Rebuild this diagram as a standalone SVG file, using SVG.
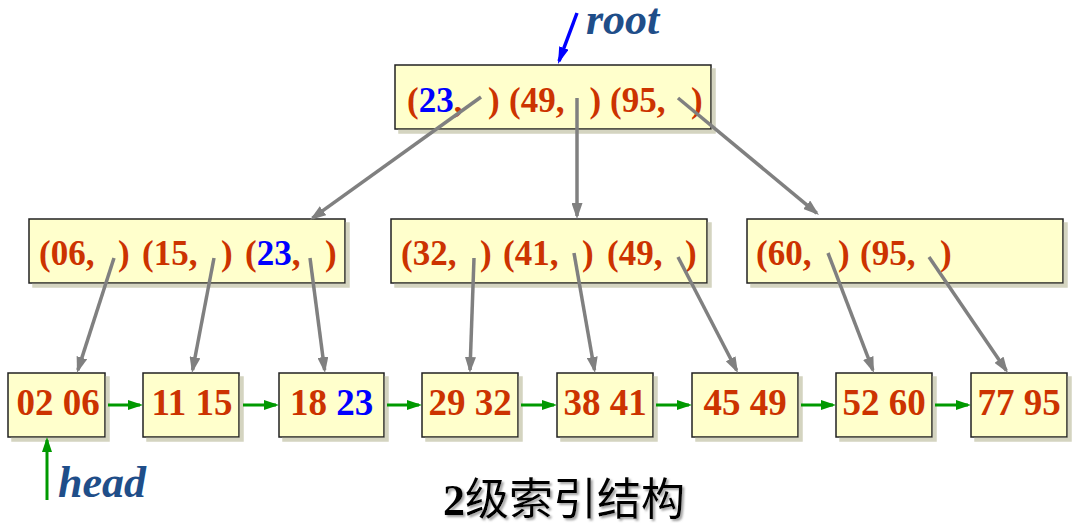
<svg xmlns="http://www.w3.org/2000/svg" width="1082" height="527" viewBox="0 0 1082 527">
<style>
.box{fill:#FFFFCC;stroke:#222;stroke-width:1.5;filter:url(#sh)}
.t{font-family:"Liberation Serif","Times New Roman",serif;font-weight:bold;font-size:35px;fill:#CC3300}
.leaf{font-family:"Liberation Serif","Times New Roman",serif;font-weight:bold;font-size:37px;fill:#CC3300;text-anchor:middle}
.b{fill:#0000FF}
.lbl{font-family:"Liberation Serif","Times New Roman",serif;font-weight:bold;font-style:italic;font-size:44px;fill:#1F4E89}
.g{stroke:#808080;stroke-width:3.5;fill:none;marker-end:url(#ag)}
.gr{stroke:#009900;stroke-width:3;fill:none;marker-end:url(#agr)}
</style>
<defs>
<filter id="sh" x="-5%" y="-5%" width="120%" height="130%">
<feDropShadow dx="4" dy="4" stdDeviation="0.6" flood-color="#d4d4c0" flood-opacity="1"/>
</filter>
<filter id="tsh" x="-5%" y="-10%" width="115%" height="140%">
<feDropShadow dx="2" dy="2" stdDeviation="1" flood-color="#888" flood-opacity="0.8"/>
</filter>
<marker id="ag" markerUnits="userSpaceOnUse" markerWidth="16" markerHeight="11" refX="13" refY="5.5" orient="auto">
<path d="M0,0 L16,5.5 L0,11 z" fill="#808080"/>
</marker>
<marker id="agr" markerUnits="userSpaceOnUse" markerWidth="15" markerHeight="10" refX="12" refY="5" orient="auto">
<path d="M0,0 L15,5 L0,10 z" fill="#009900"/>
</marker>
<marker id="ab" markerUnits="userSpaceOnUse" markerWidth="17" markerHeight="10" refX="14" refY="5" orient="auto">
<path d="M0,0 L17,5 L0,10 z" fill="#0000FF"/>
</marker>
</defs>

<g id="root-node">
<rect class="box" x="395" y="65" width="316" height="64"/>
<text class="t" y="112"><tspan x="407">(</tspan><tspan class="b">23</tspan>, <tspan x="488">)</tspan> <tspan x="509">(49, </tspan><tspan x="589.5">)</tspan> <tspan x="610">(95, </tspan><tspan x="691">)</tspan></text>
</g>

<g id="n1">
<rect class="box" x="29" y="219" width="316" height="64"/>
<text class="t" y="265"><tspan x="39">(06, </tspan><tspan x="118">)</tspan> <tspan x="142">(15, </tspan><tspan x="221">)</tspan> <tspan x="245">(</tspan><tspan class="b">23</tspan>, <tspan x="325">)</tspan></text>
</g>
<g id="n2">
<rect class="box" x="391" y="219" width="316" height="64"/>
<text class="t" y="265"><tspan x="401">(32, </tspan><tspan x="480">)</tspan> <tspan x="503">(41, </tspan><tspan x="582">)</tspan> <tspan x="607">(49, </tspan><tspan x="685">)</tspan></text>
</g>
<g id="n3">
<rect class="box" x="747" y="219" width="316" height="64"/>
<text class="t" y="265"><tspan x="756">(60, </tspan><tspan x="838">)</tspan> <tspan x="860">(95, </tspan><tspan x="940">)</tspan></text>
</g>

<g id="l1"><rect class="box" x="8" y="373" width="97" height="64"/><text class="leaf" x="58" y="415">02 06</text></g>
<g id="l2"><rect class="box" x="143" y="373" width="96" height="64"/><text class="leaf" x="192" y="415">11 15</text></g>
<g id="l3"><rect class="box" x="279" y="373" width="105" height="64"/><text class="leaf" x="331.5" y="415">18 <tspan class="b">23</tspan></text></g>
<g id="l4"><rect class="box" x="422" y="373" width="96" height="64"/><text class="leaf" x="470" y="415">29 32</text></g>
<g id="l5"><rect class="box" x="557" y="373" width="96" height="64"/><text class="leaf" x="605" y="415">38 41</text></g>
<g id="l6"><rect class="box" x="692" y="373" width="106" height="64"/><text class="leaf" x="745" y="415">45 49</text></g>
<g id="l7"><rect class="box" x="836" y="373" width="96" height="64"/><text class="leaf" x="884" y="415">52 60</text></g>
<g id="l8"><rect class="box" x="971" y="373" width="96" height="64"/><text class="leaf" x="1019" y="415">77 95</text></g>

<g id="connectors">
<line class="g" x1="481" y1="97" x2="312.4" y2="218.2"/>
<line class="g" x1="577" y1="98" x2="577" y2="216"/>
<line class="g" x1="678" y1="98" x2="816.7" y2="213.1"/>
<line class="g" x1="114" y1="258" x2="77.9" y2="370.1"/>
<line class="g" x1="214" y1="258" x2="192.6" y2="370"/>
<line class="g" x1="310" y1="258" x2="324.6" y2="370"/>
<line class="g" x1="474" y1="258" x2="470" y2="370"/>
<line class="g" x1="574" y1="253" x2="594.5" y2="370"/>
<line class="g" x1="678" y1="257" x2="736.6" y2="370.3"/>
<line class="g" x1="828" y1="253" x2="872.9" y2="370.2"/>
<line class="g" x1="929" y1="257" x2="1006.3" y2="370.5"/>
<line class="gr" x1="108" y1="405" x2="140" y2="405"/>
<line class="gr" x1="243" y1="405" x2="276" y2="405"/>
<line class="gr" x1="387" y1="405" x2="419" y2="405"/>
<line class="gr" x1="521" y1="405" x2="554" y2="405"/>
<line class="gr" x1="656" y1="405" x2="689" y2="405"/>
<line class="gr" x1="801" y1="405" x2="833" y2="405"/>
<line class="gr" x1="935" y1="405" x2="968" y2="405"/>
<line class="gr" x1="47" y1="500" x2="47" y2="440"/>
<line x1="577" y1="13" x2="559" y2="61.2" stroke="#0000FF" stroke-width="3.5" marker-end="url(#ab)"/>
</g>

<g id="labels">
<text class="lbl" x="586" y="34">root</text>
<text class="lbl" x="58" y="497">head</text>
<text x="443" y="515" font-size="44" fill="#000" filter="url(#tsh)" font-family="'Liberation Serif','Noto Sans CJK SC',serif"><tspan font-weight="bold">2</tspan><tspan font-family="'Noto Sans CJK SC',sans-serif">级索引结构</tspan></text>
</g>
</svg>
